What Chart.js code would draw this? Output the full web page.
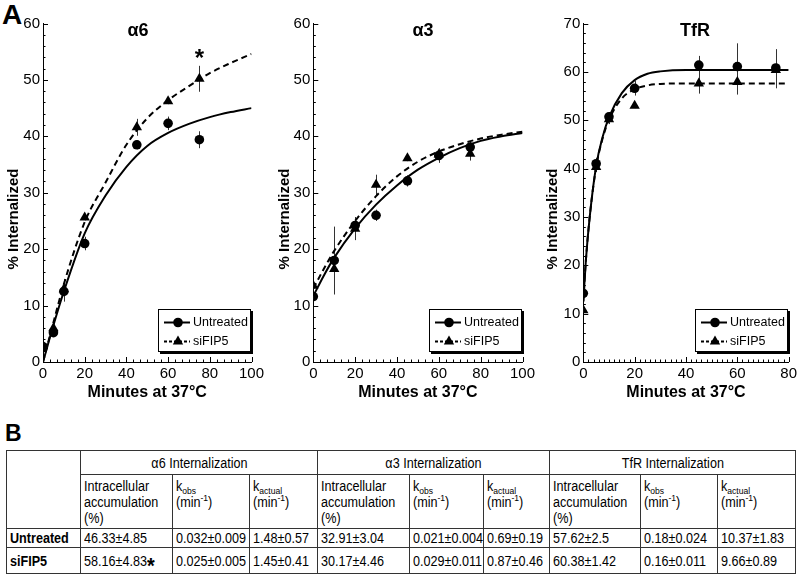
<!DOCTYPE html>
<html>
<head>
<meta charset="utf-8">
<script src="https://cdn.jsdelivr.net/npm/chart.js@4.4.0/dist/chart.umd.min.js"></script>
<style>
  body { margin: 0; width: 800px; height: 577px; position: relative; overflow: hidden; background: #fff;
         font-family: "Liberation Sans", Arial, sans-serif; color: #000; }
  canvas { position: absolute; top: 0; }
  .panel { position: absolute; font-weight: bold; line-height: 1; }
  #tbl { position: absolute; left: 6px; top: 450px; width: 789px; border-collapse: collapse; table-layout: fixed;
         font-size: 14px; line-height: 16px; border: 1.5px solid #000; }
  #tbl td { border: 1px solid #333; padding: 0 3px; white-space: nowrap; vertical-align: middle; overflow: visible; }
  #tbl tr.h1 td { text-align: center; }
  #tbl tr.h2 td { vertical-align: top; padding-top: 3px; }
  #tbl td.rl { font-weight: bold; }
  #tbl sub, #tbl sup { font-size: 9.5px; line-height: 0; }
  #tbl sub { vertical-align: -3px; }
  .sq { display: inline-block; transform: scaleX(0.9); transform-origin: 0 50%; }
  .h1 .sq { transform-origin: 50% 50%; }
  .star { font-weight: bold; font-size: 22px; position: relative; top: 7px; line-height: 0; }
</style>
</head>
<body>
<div class="panel" style="left:2px;top:1px;font-size:28px;">A</div>
<div class="panel" style="left:5px;top:422px;font-size:23px;">B</div>
<canvas id="c1" width="270" height="402" style="left:0px"></canvas>
<canvas id="c2" width="270" height="402" style="left:270px"></canvas>
<canvas id="c3" width="260" height="402" style="left:540px"></canvas>
<table id="tbl"></table>
<script>
// ---- alpha6 ----
const a6Times = [0, 5, 10, 20, 45, 60, 75];
const a6Untreated = [2.7, 5.2, 12.5, 21.0, 38.5, 42.3, 39.4];
const a6UntreatedErr = [0.5, 0.7, 1.8, 1.2, 0.8, 1.2, 1.5];
const a6Sifip5 = [2.9, 6.0, 12.9, 25.6, 41.6, 46.2, 50.2];
const a6Sifip5Err = [0.5, 0.6, 1.8, 0.5, 1.5, 0.5, 2.3];
const fitTimes = [0, 5, 10, 20, 30, 40, 50, 60, 70, 80, 90, 100];
const a6UntreatedFit = [0, 6.5, 12.5, 22.8, 29.5, 34.6, 38.3, 40.6, 42.2, 43.4, 44.3, 45.0];
const a6Sifip5Fit = [0, 7.0, 13.8, 24.8, 31.8, 38.5, 43.2, 46.4, 48.9, 51.2, 53.0, 54.6];

// ---- alpha3 ----
const a3Times = [0, 10, 20, 30, 45, 60, 75];
const a3Untreated = [11.6, 18.0, 24.2, 26.0, 32.1, 36.6, 38.1];
const a3UntreatedErr = [0.5, 6.0, 1.5, 1.0, 1.0, 1.3, 1.0];
const a3Sifip5 = [13.5, 16.5, 23.6, 31.4, 36.1, 36.8, 36.9];
const a3Sifip5Err = [0.5, 4.5, 2.0, 1.8, 0.5, 1.0, 1.2];
const a3UntreatedFit = [11.7, 15.3, 18.5, 23.7, 27.9, 31.3, 34.1, 36.2, 37.9, 39.2, 40.0, 40.6];
const a3Sifip5Fit = [13.0, 16.5, 19.7, 25.0, 29.4, 32.9, 35.5, 37.3, 38.6, 39.6, 40.3, 40.8];

// ---- TfR ----
const tfrTimes = [0, 5, 10, 20, 45, 60, 75];
const tfrUntreated = [14.2, 41.0, 50.7, 56.6, 61.4, 61.1, 60.8];
const tfrUntreatedErr = [0.6, 1.2, 1.0, 1.5, 1.9, 4.8, 3.9];
const tfrSifip5 = [10.7, 40.3, 50.2, 53.0, 57.6, 57.9, 60.4];
const tfrSifip5Err = [0.5, 1.0, 1.0, 0.5, 2.1, 2.6, 3.8];
const tfrFitTimes = [0, 1, 2.5, 5, 7.5, 10, 15, 20, 25, 30, 40, 60, 80];
const tfrUntreatedFit = [12.5, 21, 30, 40.5, 46.5, 50.6, 55.6, 58.3, 59.6, 60.1, 60.4, 60.4, 60.4];
const tfrSifip5Fit = [12.5, 21, 30, 40.3, 46.2, 50.1, 54.5, 56.4, 57.2, 57.5, 57.6, 57.6, 57.6];

const seriesNames = ['Untreated', 'siFIP5'];

// ---- table B ----
const tableGroups = ['α6 Internalization', 'α3 Internalization', 'TfR Internalization'];
const tableSubHeads = ['Intracellular<br>accumulation<br>(%)', 'k<sub>obs</sub><br>(min<sup>-1</sup>)', 'k<sub>actual</sub><br>(min<sup>-1</sup>)'];
const untreatedCells = ['46.33±4.85', '0.032±0.009', '1.48±0.57', '32.91±3.04', '0.021±0.004', '0.69±0.19', '57.62±2.5', '0.18±0.024', '10.37±1.83'];
const sifip5Cells = ['58.16±4.83', '0.025±0.005', '1.45±0.41', '30.17±4.46', '0.029±0.011', '0.87±0.46', '60.38±1.42', '0.16±0.011', '9.66±0.89'];
const sigCell = 0; // siFIP5 cell marked with a star

const FONT = '"Liberation Sans", Arial, sans-serif';

const pts = (xs, ys) => xs.map((x, i) => ({x: x, y: ys[i]}));

// error bars, inward ticks, panel title, y title, star and boxed legend
const figPlugin = {
  id: 'fig',
  beforeDatasetsDraw(chart) {
    const {ctx, scales: {x, y}} = chart;
    ctx.save();
    ctx.strokeStyle = '#333';
    ctx.lineWidth = 1;
    chart.data.datasets.forEach(ds => {
      if (!ds.errors) return;
      ds.data.forEach((p, j) => {
        const px = Math.round(x.getPixelForValue(p.x)) + 0.5;
        ctx.beginPath();
        ctx.moveTo(px, y.getPixelForValue(p.y - ds.errors[j]));
        ctx.lineTo(px, y.getPixelForValue(p.y + ds.errors[j]));
        ctx.stroke();
      });
    });
    ctx.restore();
  },
  afterDraw(chart) {
    const o = chart.options.plugins.fig;
    const {ctx, chartArea: a, scales: {x, y}} = chart;
    ctx.save();
    ctx.strokeStyle = '#000';
    ctx.lineWidth = 1;
    const ticks = (scale, step, len, horiz) => {
      const n = Math.round((scale.max - scale.min) / step);
      for (let i = 0; i <= n; i++) {
        const p = Math.round(scale.getPixelForValue(scale.min + i * step)) + 0.5;
        ctx.beginPath();
        if (horiz) { ctx.moveTo(p, a.bottom); ctx.lineTo(p, a.bottom - len); }
        else { ctx.moveTo(a.left, p); ctx.lineTo(a.left + len, p); }
        ctx.stroke();
      }
    };
    ticks(x, o.xMinor, 2.5, true);
    ticks(x, o.xMajor, 5, true);
    ticks(y, o.yMinor, 2.5, false);
    ticks(y, o.yMajor, 5, false);

    ctx.fillStyle = '#000';
    ctx.font = 'bold 18px ' + FONT;
    ctx.textAlign = 'center';
    ctx.textBaseline = 'middle';
    ctx.fillText(o.title, o.titleX, 31);

    // y axis title, sits lower than the axis middle in the original
    ctx.save();
    ctx.translate(o.yTitleX, 219);
    ctx.rotate(-Math.PI / 2);
    ctx.font = 'bold 15px ' + FONT;
    ctx.fillText('% Internalized', 0, 0);
    ctx.restore();

    if (o.star) {
      ctx.font = 'bold 24px ' + FONT;
      ctx.textBaseline = 'alphabetic';
      ctx.fillText('*', x.getPixelForValue(o.star.x), y.getPixelForValue(o.star.y) + 14);
    }

    // legend box with drop shadow
    const bw = 93, bh = 43;
    const bx = Math.round(a.right - bw - 1), by = Math.round(a.bottom - 10 - bh);
    ctx.fillStyle = '#000';
    ctx.fillRect(bx + 2, by + 2, bw, bh);
    ctx.fillStyle = '#fff';
    ctx.fillRect(bx, by, bw, bh);
    ctx.strokeRect(bx + 0.5, by + 0.5, bw - 1, bh - 1);
    [0, 1].forEach(i => {
      const mk = chart.data.datasets[i];
      const ln = chart.data.datasets[i + 2];
      const cy = by + 13.5 + i * 19;
      ctx.strokeStyle = '#000';
      ctx.lineWidth = 2;
      ctx.setLineDash(ln.borderDash ? [3, 2] : []);
      ctx.beginPath();
      ctx.moveTo(bx + 6, cy);
      ctx.lineTo(bx + 32, cy);
      ctx.stroke();
      ctx.setLineDash([]);
      ctx.fillStyle = '#000';
      Chart.helpers.drawPoint(ctx, {pointStyle: mk.pointStyle, radius: mk.pointRadius, rotation: 0, borderWidth: 0}, bx + 20, cy);
      ctx.font = '12.5px ' + FONT;
      ctx.textAlign = 'left';
      ctx.textBaseline = 'middle';
      ctx.fillText(mk.label, bx + 35, cy);
    });
    ctx.restore();
  }
};

function makeChart(id, c) {
  return new Chart(document.getElementById(id), {
    type: 'scatter',
    data: {
      datasets: [
        {label: seriesNames[0], data: pts(c.times, c.untreated), errors: c.untreatedErr,
         pointStyle: 'circle', pointRadius: 4.8, backgroundColor: '#000', borderWidth: 0},
        {label: seriesNames[1], data: pts(c.times, c.sifip5), errors: c.sifip5Err,
         pointStyle: 'triangle', pointRadius: 6, backgroundColor: '#000', borderWidth: 0},
        {label: 'fit ' + seriesNames[0], data: pts(c.fitTimes, c.untreatedFit), showLine: true, pointRadius: 0,
         borderColor: '#000', borderWidth: 2, cubicInterpolationMode: 'monotone'},
        {label: 'fit ' + seriesNames[1], data: pts(c.fitTimes, c.sifip5Fit), showLine: true, pointRadius: 0,
         borderColor: '#000', borderWidth: 2, borderDash: [6, 4], cubicInterpolationMode: 'monotone'}
      ]
    },
    options: {
      responsive: false,
      animation: false,
      events: [],
      layout: {padding: {left: 0, right: c.padRight, top: 23.5, bottom: 0}},
      plugins: {
        legend: {display: false},
        tooltip: {enabled: false},
        fig: {title: c.title, titleX: c.titleX, yTitleX: c.yTitleX, star: c.star,
              xMajor: 20, xMinor: c.xMinor, yMajor: 10, yMinor: 2}
      },
      scales: {
        x: {
          type: 'linear', min: 0, max: c.xMax,
          afterFit: s => { s.height = 40; },
          grid: {display: false, drawTicks: false},
          border: {display: true, color: '#000', width: 1},
          ticks: {stepSize: 20, color: '#000', padding: 3, maxRotation: 0, font: {size: 15, family: FONT}},
          title: {display: true, text: 'Minutes at 37°C', color: '#000', padding: {top: 0, bottom: 0},
                  font: {size: 16, weight: 'bold', family: FONT}}
        },
        y: {
          min: 0, max: c.yMax,
          afterFit: s => { s.width = c.yWidth; },
          grid: {display: false, drawTicks: false},
          border: {display: true, color: '#000', width: 1},
          ticks: {stepSize: 10, color: '#000', padding: 3, font: {size: 15, family: FONT}},
          title: {display: false}
        }
      }
    },
    plugins: [figPlugin]
  });
}

makeChart('c1', {title: 'α6', titleX: 138, yTitleX: 14, star: {x: 75, y: 55}, times: a6Times,
  untreated: a6Untreated, untreatedErr: a6UntreatedErr, sifip5: a6Sifip5, sifip5Err: a6Sifip5Err,
  fitTimes: fitTimes, untreatedFit: a6UntreatedFit, sifip5Fit: a6Sifip5Fit,
  xMax: 100, yMax: 60, xMinor: 20 / 6, yWidth: 43, padRight: 18.5});

makeChart('c2', {title: 'α3', titleX: 153, yTitleX: 15, times: a3Times,
  untreated: a3Untreated, untreatedErr: a3UntreatedErr, sifip5: a3Sifip5, sifip5Err: a3Sifip5Err,
  fitTimes: fitTimes, untreatedFit: a3UntreatedFit, sifip5Fit: a3Sifip5Fit,
  xMax: 100, yMax: 60, xMinor: 20 / 6, yWidth: 43.3, padRight: 17.5});

makeChart('c3', {title: 'TfR', titleX: 155, yTitleX: 13, times: tfrTimes,
  untreated: tfrUntreated, untreatedErr: tfrUntreatedErr, sifip5: tfrSifip5, sifip5Err: tfrSifip5Err,
  fitTimes: tfrFitTimes, untreatedFit: tfrUntreatedFit, sifip5Fit: tfrSifip5Fit,
  xMax: 80, yMax: 70, xMinor: 2, yWidth: 43.3, padRight: 7});

// ---- table ----
const colWidths = [74, 92, 77, 68, 92, 74, 66, 91, 77, 78];
const rowHeights = [24, 54, 19, 26];
const sq = s => '<span class="sq">' + s + '</span>';
let html = '<colgroup>' + colWidths.map(w => '<col style="width:' + w + 'px">').join('') + '</colgroup>';
html += '<tr class="h1" style="height:' + rowHeights[0] + 'px"><td rowspan="2"></td>' +
  tableGroups.map(g => '<td colspan="3">' + sq(g) + '</td>').join('') + '</tr>';
html += '<tr class="h2" style="height:' + rowHeights[1] + 'px">' +
  tableGroups.map(() => tableSubHeads.map(s => '<td>' + sq(s) + '</td>').join('')).join('') + '</tr>';
[untreatedCells, sifip5Cells].forEach((cells, r) => {
  html += '<tr style="height:' + rowHeights[r + 2] + 'px"><td class="rl">' + sq(seriesNames[r]) + '</td>' +
    cells.map((v, i) => '<td>' + sq(v + (r === 1 && i === sigCell ? '<span class="star">*</span>' : '')) + '</td>').join('') + '</tr>';
});
document.getElementById('tbl').innerHTML = html;
</script>
</body>
</html>
